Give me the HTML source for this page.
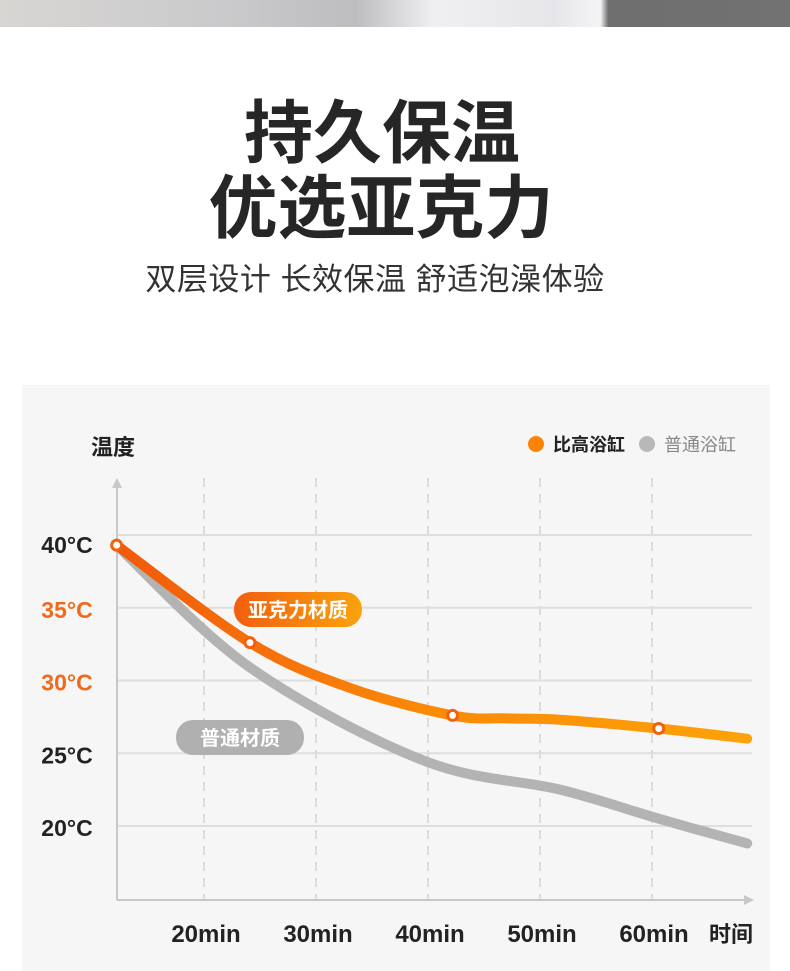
<!DOCTYPE html>
<html><head><meta charset="utf-8"><style>
body{margin:0;width:790px;height:971px;background:#fff;overflow:hidden;position:relative;font-family:"Liberation Sans","Noto Sans CJK SC",sans-serif}
.t{position:absolute;width:700px;text-align:center;color:#262626;font-weight:bold}
</style></head><body>
<div style="position:absolute;left:0;top:0;width:790px;height:27px;background:linear-gradient(90deg,#d8d6d3 0%,#c9c9cb 30%,#bdbdc0 45%,#f0f0f2 55%,#e6e6ea 70%,#f4f4f6 76%,#6e6e6e 77%,#727272 100%)"></div>
<div class="t" style="left:32px;top:94px;font-size:69px;line-height:80px">持久保温</div>
<div class="t" style="left:31px;top:169px;font-size:69px;line-height:80px">优选亚克力</div>
<div class="t" style="left:25px;top:259px;font-size:31px;font-weight:normal;color:#333;line-height:42px;letter-spacing:0.5px">双层设计 长效保温 舒适泡澡体验</div>
<svg style="position:absolute;left:0;top:0" width="790" height="971">
<defs>
<linearGradient id="og" x1="0" x2="1"><stop offset="0" stop-color="#f25a0c"/><stop offset="0.5" stop-color="#fb8a06"/><stop offset="1" stop-color="#fca20a"/></linearGradient>
<linearGradient id="bg1" x1="0" x2="1"><stop offset="0" stop-color="#f25e0e"/><stop offset="1" stop-color="#fba30c"/></linearGradient>
</defs>
<rect x="22" y="385" width="748" height="586" fill="#f6f6f6"/>
<g id="grid"></g>
<g id="axes"></g>
<g id="series"></g>
<g id="labels"></g>
<text x="91" y="455" font-size="22" font-weight="bold" fill="#222">温度</text>
<circle cx="536" cy="444" r="8" fill="#fb8306"/>
<text x="553" y="451" font-size="18" font-weight="bold" fill="#222">比高浴缸</text>
<circle cx="647" cy="444" r="8" fill="#b8b8b8"/>
<text x="664" y="451" font-size="18" fill="#888">普通浴缸</text>
<rect x="234" y="592" width="128" height="35" rx="17" fill="url(#bg1)"/>
<text x="298" y="617" font-size="20" font-weight="bold" fill="#fff" text-anchor="middle">亚克力材质</text>
<rect x="176" y="720" width="128" height="35" rx="17" fill="#b0b0b0"/>
<text x="240" y="745" font-size="20" font-weight="bold" fill="#fff" text-anchor="middle">普通材质</text>
</svg>
<script>
const tempTicks=[40,35,30,25,20];
const tempTickLabels=["40°C","35°C","30°C","25°C","20°C"];
const timeTicks=[20,30,40,50,60];
const timeTickLabels=["20min","30min","40min","50min","60min"];
const acrylicTimes=[12.2,24.1,33,42.2,47,51.8,60.6,68.5];
const acrylicTemps=[39.3,32.6,29.5,27.6,27.4,27.3,26.7,26.0];
const acrylicMarked=[0,1,3,6];
const normalTimes=[12.2,24.1,39.6,51.8,60.6,68.5];
const normalTemps=[39.3,30.9,24.5,22.5,20.5,18.8];
const NS="http://www.w3.org/2000/svg";
function xs(t){return 204+(t-20)*11.2;}
function ys(v){return 535+(40-v)*14.55;}
function mk(tag,attrs,parent){const e=document.createElementNS(NS,tag);for(const k in attrs)e.setAttribute(k,attrs[k]);document.getElementById(parent).appendChild(e);return e;}
tempTicks.forEach((v,i)=>{
 const l=mk('line',{x1:117,x2:752,y1:ys(v),y2:ys(v),stroke:'#dedede','stroke-width':2},'grid');
 
 
 const tx=mk('text',{x:67,y:ys(v)+(i==0?18:10),'font-size':23,'font-weight':'bold','text-anchor':'middle',fill:(i==1||i==2)?'#f06a1c':'#222'},'labels');
 tx.textContent=tempTickLabels[i];
 
 
});
timeTicks.forEach((t,i)=>{
 const l=mk('line',{x1:xs(t),x2:xs(t),y1:478,y2:900,stroke:'#dcdcdc','stroke-width':2,'stroke-dasharray':'9 7'},'grid');
 
 
 const tx=mk('text',{x:xs(t)+2,y:942,'font-size':24,'font-weight':'bold','text-anchor':'middle',fill:'#222'},'labels');
 tx.textContent=timeTickLabels[i];
 
 
});
const xt=mk('text',{x:709,y:942,'font-size':22,'font-weight':'bold',fill:'#222'},'labels');
xt.textContent='时间';


const ax=mk('path',{d:'M117 900 V488 M117 900 H744',stroke:'#c8c8c8','stroke-width':2,fill:'none'},'axes');


const ar=mk('path',{d:'M112 488 L117 478 L122 488Z M744 895 L754 900 L744 905Z',fill:'#c8c8c8'},'axes');


function smooth(px,py){let d='M'+px[0]+' '+py[0];for(let i=0;i<px.length-1;i++){const x0=px[i-1]??px[i],y0=py[i-1]??py[i],x3=px[i+2]??px[i+1],y3=py[i+2]??py[i+1];d+=' C'+(px[i]+(px[i+1]-x0)/6)+' '+(py[i]+(py[i+1]-y0)/6)+' '+(px[i+1]-(x3-px[i])/6)+' '+(py[i+1]-(y3-py[i])/6)+' '+px[i+1]+' '+py[i+1];}return d;}
const gl=mk('path',{d:smooth(normalTimes.map(xs),normalTemps.map(ys)),stroke:'#b3b3b3','stroke-width':10,fill:'none','stroke-linecap':'round'},'series');


const ol=mk('path',{d:smooth(acrylicTimes.map(xs),acrylicTemps.map(ys)),stroke:'url(#og)','stroke-width':10,fill:'none','stroke-linecap':'round'},'series');


acrylicMarked.forEach(i=>{
 const c=mk('circle',{cx:xs(acrylicTimes[i]),cy:ys(acrylicTemps[i]),r:5,fill:'#fff',stroke:'#f2620e','stroke-width':3},'series');
 
 
});
</script>
</body></html>
